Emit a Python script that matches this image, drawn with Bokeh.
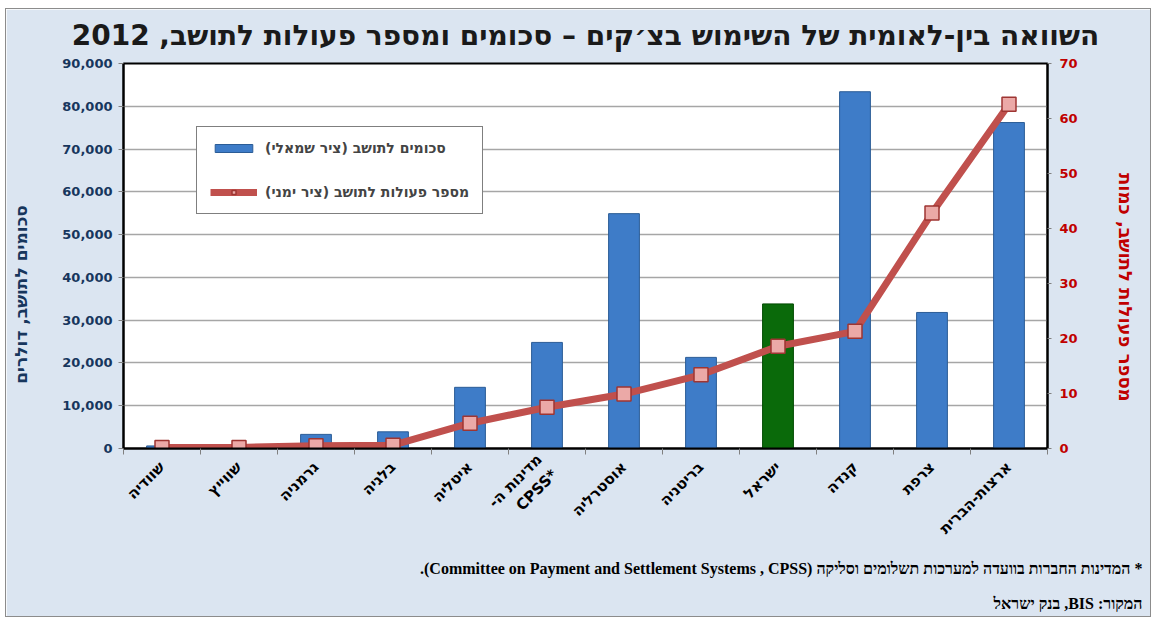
import numpy as np
from bokeh.plotting import figure
from bokeh.models import (LinearAxis, Range1d, FixedTicker, Legend, LegendItem,
                          Title, ColumnDataSource, NumeralTickFormatter)
from bokeh.embed import file_html
from bokeh.resources import INLINE

# ---------------- data ----------------
countries = ["שוודיה", "שווייץ", "גרמניה", "בלגיה", "איטליה", "מדינות ה-\nCPSS*",
             "אוסטרליה", "בריטניה", "ישראל", "קנדה", "צרפת", "ארצות-הברית"]
amounts_per_capita = [600, 200, 3300, 3900, 14300, 24800, 54900, 21300, 33800, 83400, 31800, 76200]
transactions_per_capita = [0.2, 0.2, 0.5, 0.6, 4.6, 7.5, 9.9, 13.4, 18.6, 21.3, 42.8, 62.6]
highlight = "ישראל"
left_ticks = [0, 10000, 20000, 30000, 40000, 50000, 60000, 70000, 80000, 90000]
right_ticks = [0, 10, 20, 30, 40, 50, 60, 70]

title_text = "השוואה בין-לאומית של השימוש בצ׳קים – סכומים ומספר פעולות לתושב, 2012"
left_label = "סכומים לתושב, דולרים"
right_label = "מספר פעולות לתושב, כמות"
legend_bar = "סכומים לתושב (ציר שמאלי)"
legend_line = "מספר פעולות לתושב (ציר ימני)"
note1 = "* המדינות החברות בוועדה למערכות תשלומים וסליקה (Committee on Payment and Settlement Systems , CPSS)."
note2 = "המקור: BIS, בנק ישראל"

# ---------------- styles ----------------
BG = "#DBE5F1"
NAVY = "#17365D"
RED = "#C00000"
BLUE = "#3E7CC8"
BLUE_EDGE = "#2B5C96"
GREEN = "#0A6A0A"
GREEN_EDGE = "#004A00"
LINE = "#C0504D"
RLE, PDF, RLM, NBSP = "\u202B", "\u202C", "\u200F", "\u00A0"

n = len(countries)
idx = list(range(n))
bar_colors = [GREEN if c == highlight else BLUE for c in countries]
bar_edges = [GREEN_EDGE if c == highlight else BLUE_EDGE for c in countries]

src = ColumnDataSource(dict(x=idx, amt=amounts_per_capita, trn=transactions_per_capita,
                            fill=bar_colors, edge=bar_edges))

p = figure(width=1146, height=609, x_range=Range1d(-0.5, n - 0.5),
           y_range=Range1d(left_ticks[0], left_ticks[-1]),
           output_backend="svg", toolbar_location=None,
           min_border_left=117, min_border_right=105, min_border_top=53, min_border_bottom=170)
p.extra_y_ranges = {"right": Range1d(right_ticks[0], right_ticks[-1])}

p.background_fill_color = "white"
p.border_fill_color = BG
p.outline_line_color = "black"
p.outline_line_width = 2
p.styles = {"margin-left": "5px", "margin-top": "8px", "border": "1px solid #8C8C8C"}

# title
p.title.text = title_text
p.title.align = "center"
p.title.vertical_align = "top"
p.title.text_font = "DejaVu Sans"
p.title.text_font_size = "28px"
p.title.text_font_style = "bold"
p.title.text_color = "#1A1A1A"
p.title.standoff = 19

# grid
p.xgrid.grid_line_color = None
p.ygrid.ticker = FixedTicker(ticks=left_ticks)
p.ygrid.grid_line_color = "#A6A6A6"
p.ygrid.grid_line_width = 1.5

# bars
bars = p.vbar(x="x", top="amt", width=0.4, source=src, fill_color="fill", line_color="edge",
              line_width=1)

# line + markers on right axis
ln = p.line(x="x", y="trn", source=src, y_range_name="right", line_color=LINE, line_width=7)
mk = p.scatter(x="x", y="trn", source=src, y_range_name="right", marker="square", size=14,
               fill_color="#EBA9A7", line_color="#9E3532", line_width=1.5)

# left axis
ya = p.yaxis[0]
ya.ticker = FixedTicker(ticks=left_ticks)
ya.formatter = NumeralTickFormatter(format="0,0")
ya.major_label_text_font = "DejaVu Sans"
ya.major_label_text_font_size = "13px"
ya.major_label_text_font_style = "bold"
ya.major_label_text_color = NAVY
ya.axis_line_color = "black"
ya.axis_line_width = 2
ya.major_tick_in = 0
ya.major_tick_out = 5
ya.major_tick_line_color = "#808080"
ya.minor_tick_line_color = None
ya.major_label_standoff = 6
# non-breaking padding shifts the label below the frame centre, as in the reference
ya.axis_label = left_label + NBSP * 13
ya.axis_label_text_font = "DejaVu Sans"
ya.axis_label_text_font_size = "17px"
ya.axis_label_text_font_style = "bold"
ya.axis_label_text_color = NAVY
ya.axis_label_standoff = 28

# right axis
ra = LinearAxis(y_range_name="right", ticker=FixedTicker(ticks=right_ticks))
ra.major_label_text_font = "DejaVu Sans"
ra.major_label_text_font_size = "13px"
ra.major_label_text_font_style = "bold"
ra.major_label_text_color = RED
ra.axis_line_color = "black"
ra.axis_line_width = 2
ra.major_tick_in = 0
ra.major_tick_out = 4
ra.major_tick_line_color = "#808080"
ra.minor_tick_line_color = None
ra.major_label_standoff = 8
ra.axis_label = NBSP * 10 + right_label
ra.axis_label_text_font = "DejaVu Sans"
ra.axis_label_text_font_size = "18px"
ra.axis_label_text_font_style = "bold"
ra.axis_label_text_color = RED
ra.axis_label_standoff = 34
p.add_layout(ra, "right")

# bottom axis
xa = p.xaxis[0]
xa.ticker = FixedTicker(ticks=idx, minor_ticks=[i - 0.5 for i in range(n + 1)])
xa.major_label_overrides = {i: c.replace("-\n", "-" + RLM + "\n") for i, c in enumerate(countries)}
xa.major_label_orientation = np.pi / 4
xa.major_label_text_font = "DejaVu Sans"
xa.major_label_text_font_size = "15px"
xa.major_label_text_font_style = "bold"
xa.major_label_text_color = "black"
xa.major_tick_line_color = None
xa.minor_tick_in = 0
xa.minor_tick_out = 6
xa.minor_tick_line_color = "#808080"
xa.axis_line_color = "black"
xa.axis_line_width = 2
xa.major_label_standoff = 10

# legend
legend = Legend(items=[LegendItem(label=legend_bar, renderers=[bars]),
                       LegendItem(label=legend_line, renderers=[ln, mk])],
                location=(73, 234))
legend.background_fill_color = "white"
legend.background_fill_alpha = 1
legend.border_line_color = "black"
legend.border_line_width = 1
legend.label_text_font = "DejaVu Sans"
legend.label_text_font_size = "14px"
legend.label_text_font_style = "bold"
legend.glyph_width = 47
legend.glyph_height = 10
legend.label_standoff = 8
legend.padding = 13
legend.spacing = 28
legend.margin = 0
p.add_layout(legend, "center")

# footnotes
for txt, so in [(note1, 20), (note2, 12)]:
    t = Title(text=RLE + txt + PDF, align="right", text_font="Liberation Serif",
              text_font_size="16px", text_font_style="bold", text_color="black",
              standoff=so, offset=-95)
    p.add_layout(t, "below")

open("out.html", "w").write(file_html(p, INLINE))
